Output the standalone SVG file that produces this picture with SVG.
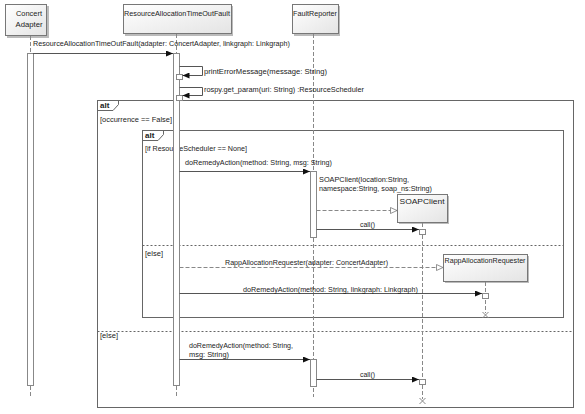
<svg xmlns="http://www.w3.org/2000/svg" width="585" height="414" viewBox="0 0 585 414">
<defs>
<linearGradient id="g" x1="0" y1="0" x2="1" y2="1">
<stop offset="0" stop-color="#ffffff"/>
<stop offset="1" stop-color="#e4e4e4"/>
</linearGradient>
<marker id="af" markerWidth="8" markerHeight="6" refX="7" refY="3" orient="auto" markerUnits="userSpaceOnUse">
<path d="M0,0 L7,3 L0,6 z" fill="#111"/>
</marker>
<marker id="ao" markerWidth="8" markerHeight="8" refX="7" refY="3.5" orient="auto" markerUnits="userSpaceOnUse">
<path d="M0.5,0.5 L7,3.5 L0.5,6.5 z" fill="#fff" stroke="#777" stroke-width="0.8"/>
</marker>
</defs>
<style>
text{font-family:"Liberation Sans",Arial,sans-serif;font-size:8px;fill:#222}
.b{font-weight:bold}
.hd{fill:url(#g);stroke:#777;stroke-width:1}
.sh{fill:#bbb}
.ll{stroke:#888;stroke-width:1;stroke-dasharray:4,2;fill:none}
.act{fill:#fff;stroke:#888;stroke-width:1}
.msg{stroke:#555;stroke-width:1;fill:none}
.dmsg{stroke:#888;stroke-width:1;fill:none;stroke-dasharray:4,2}
.fr{fill:none;stroke:#666;stroke-width:1}
.dv{stroke:#666;stroke-width:1;stroke-dasharray:2,2;fill:none}
.x{stroke:#888;stroke-width:1}
</style>
<rect width="585" height="414" fill="#fff"/>

<g id="frames">
<rect class="fr" x="97.5" y="100.5" width="476" height="307"/>
<path class="fr" d="M97.5,110.5 H113 L118.5,104.5 V100.5"/>
<text class="b" x="100" y="108">alt</text>
<text x="100" y="122" textLength="72" lengthAdjust="spacingAndGlyphs">[occurrence == False]</text>
<line class="dv" x1="97.5" y1="331.5" x2="573.5" y2="331.5"/>
<text x="100" y="338" textLength="18" lengthAdjust="spacingAndGlyphs">[else]</text>

<rect class="fr" x="142.5" y="130.5" width="421" height="187"/>
<path class="fr" d="M142.5,140.5 H158 L163.5,134.5 V130.5"/>
<text class="b" x="145" y="138">alt</text>
<text x="145" y="151" textLength="102" lengthAdjust="spacingAndGlyphs">[if ResourceScheduler == None]</text>
<line class="dv" x1="142.5" y1="245.5" x2="563.5" y2="245.5"/>
<text x="145" y="256" textLength="18" lengthAdjust="spacingAndGlyphs">[else]</text>
</g>

<g id="ConcertAdapter">
<rect class="sh" x="7" y="6" width="42" height="32"/>
<rect class="hd" x="5.5" y="4.5" width="41" height="31"/>
<text x="29" y="16" text-anchor="middle" textLength="26" lengthAdjust="spacingAndGlyphs">Concert</text>
<text x="29" y="27" text-anchor="middle" textLength="27" lengthAdjust="spacingAndGlyphs">Adapter</text>
<line class="ll" x1="30.5" y1="36" x2="30.5" y2="53"/>
<line class="ll" x1="30.5" y1="386" x2="30.5" y2="397"/>
<rect class="act" x="27.5" y="53.5" width="6" height="332"/>
</g>

<g id="ResourceAllocationTimeOutFault">
<rect class="sh" x="125" y="6" width="108" height="30"/>
<rect class="hd" x="123.5" y="4.5" width="108" height="29"/>
<text x="177" y="16" text-anchor="middle" textLength="106" lengthAdjust="spacingAndGlyphs">ResourceAllocationTimeOutFault</text>
<line class="ll" x1="176.5" y1="34" x2="176.5" y2="53"/>
<line class="ll" x1="176.5" y1="386" x2="176.5" y2="397"/>
<rect class="act" x="173.5" y="53.5" width="6" height="332"/>
<rect class="act" x="176.5" y="74.5" width="6" height="5"/>
<rect class="act" x="176.5" y="95.5" width="6" height="5"/>
</g>

<g id="FaultReporter">
<rect class="sh" x="294" y="6" width="46" height="30"/>
<rect class="hd" x="292.5" y="4.5" width="46" height="29"/>
<text x="315" y="16" text-anchor="middle" textLength="44" lengthAdjust="spacingAndGlyphs">FaultReporter</text>
<line class="ll" x1="313.5" y1="34" x2="313.5" y2="397"/>
<rect class="act" x="310.5" y="171.5" width="6" height="66"/>
<rect class="act" x="310.5" y="359.5" width="6" height="27"/>
</g>

<g id="SOAPClient">
<rect class="sh" x="399" y="196" width="50" height="28"/>
<rect class="hd" x="397.5" y="194.5" width="50" height="28"/>
<text x="422" y="204" text-anchor="middle" textLength="45" lengthAdjust="spacingAndGlyphs">SOAPClient</text>
<line class="ll" x1="422.5" y1="223" x2="422.5" y2="399"/>
<rect class="act" x="419.5" y="229.5" width="6" height="5"/>
<rect class="act" x="419.5" y="379.5" width="6" height="5"/>
<path class="x" d="M419.5,398 L425.5,404 M425.5,398 L419.5,404"/>
</g>

<g id="RappAllocationRequester">
<rect class="sh" x="445" y="256" width="84" height="27"/>
<rect class="hd" x="443.5" y="254.5" width="84" height="27"/>
<text x="485" y="263" text-anchor="middle" textLength="81" lengthAdjust="spacingAndGlyphs">RappAllocationRequester</text>
<line class="ll" x1="485.5" y1="282" x2="485.5" y2="313"/>
<rect class="act" x="482.5" y="293.5" width="6" height="5"/>
<path class="x" d="M482.5,312 L488.5,318 M488.5,312 L482.5,318"/>
</g>

<g id="connectors">
<line class="msg" x1="33" y1="53.5" x2="173" y2="53.5" marker-end="url(#af)"/>
<text x="33" y="46" textLength="257" lengthAdjust="spacingAndGlyphs">ResourceAllocationTimeOutFault(adapter: ConcertAdapter, linkgraph: Linkgraph)</text>

<path class="msg" d="M179.5,66.5 H202.5 V75.5 H182.5" marker-end="url(#af)"/>
<text x="204" y="74" textLength="123" lengthAdjust="spacingAndGlyphs">printErrorMessage(message: String)</text>
<path class="msg" d="M179.5,87.5 H202.5 V95.5 H182.5" marker-end="url(#af)"/>
<text x="204" y="92" textLength="160" lengthAdjust="spacingAndGlyphs">rospy.get_param(uri: String) :ResourceScheduler</text>

<line class="msg" x1="179.5" y1="171.5" x2="310" y2="171.5" marker-end="url(#af)"/>
<text x="185" y="164.5" textLength="147" lengthAdjust="spacingAndGlyphs">doRemedyAction(method: String, msg: String)</text>

<line class="dmsg" x1="316.5" y1="210.5" x2="397" y2="210.5" marker-end="url(#ao)"/>
<text x="319" y="182" textLength="90" lengthAdjust="spacingAndGlyphs">SOAPClient(location:String,</text>
<text x="319" y="191" textLength="113" lengthAdjust="spacingAndGlyphs">namespace:String, soap_ns:String)</text>

<line class="msg" x1="316.5" y1="229.5" x2="419" y2="229.5" marker-end="url(#af)"/>
<text x="360" y="227" textLength="15" lengthAdjust="spacingAndGlyphs">call()</text>

<line class="dmsg" x1="179.5" y1="267.5" x2="443" y2="267.5" marker-end="url(#ao)"/>
<text x="225" y="264.5" textLength="163" lengthAdjust="spacingAndGlyphs">RappAllocationRequester(adapter: ConcertAdapter)</text>

<line class="msg" x1="179.5" y1="293.5" x2="482" y2="293.5" marker-end="url(#af)"/>
<text x="243" y="291.5" textLength="175" lengthAdjust="spacingAndGlyphs">doRemedyAction(method: String, linkgraph: Linkgraph)</text>

<line class="msg" x1="179.5" y1="359.5" x2="310" y2="359.5" marker-end="url(#af)"/>
<text x="189" y="347.5" textLength="104" lengthAdjust="spacingAndGlyphs">doRemedyAction(method: String,</text>
<text x="189" y="356.5" textLength="40" lengthAdjust="spacingAndGlyphs">msg: String)</text>

<line class="msg" x1="316.5" y1="379.5" x2="419" y2="379.5" marker-end="url(#af)"/>
<text x="360" y="376.5" textLength="15" lengthAdjust="spacingAndGlyphs">call()</text>
</g>
</svg>
